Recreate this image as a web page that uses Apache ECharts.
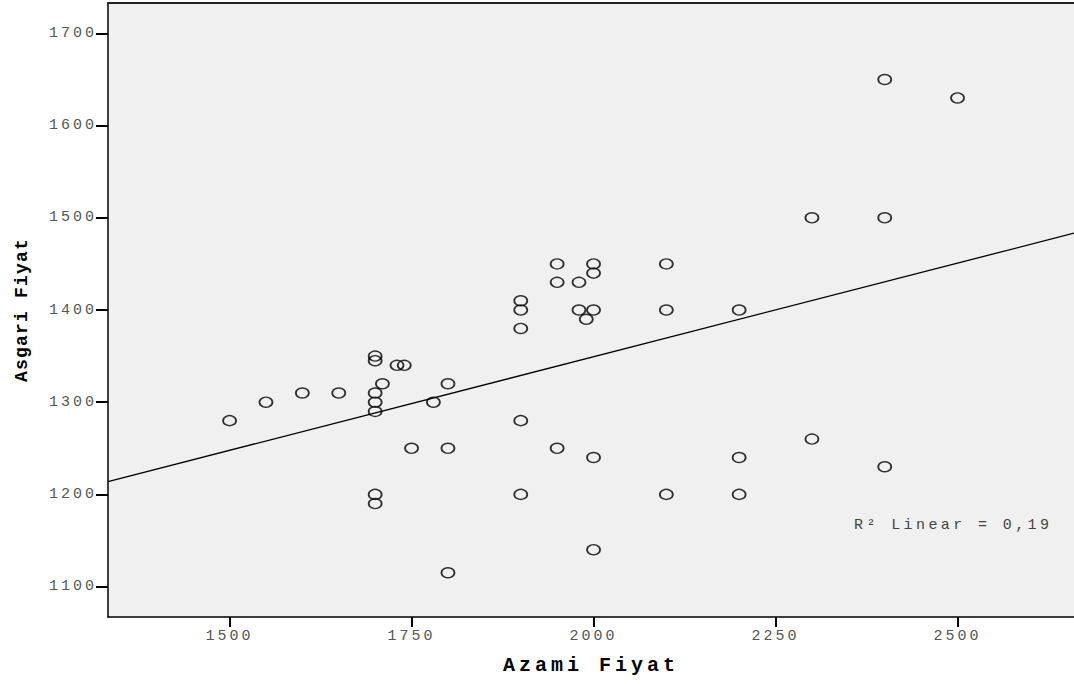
<!DOCTYPE html>
<html>
<head>
<meta charset="utf-8">
<script src="https://cdn.jsdelivr.net/npm/echarts@6/dist/echarts.min.js"></script>
<style>
  html, body { margin: 0; padding: 0; background: #fff; }
  #chart { width: 1074px; height: 684px; }
</style>
</head>
<body>
<div id="chart"></div>
<script>
// Maximum price (x) and minimum price (y) per observation
const azamiFiyat = [
  1500, 1550, 1600, 1650,
  1700, 1700, 1700, 1700, 1700, 1700, 1700,
  1710, 1730, 1740, 1750, 1780,
  1800, 1800, 1800,
  1900, 1900, 1900, 1900, 1900,
  1950, 1950, 1950,
  1980, 1980, 1990,
  2000, 2000, 2000, 2000, 2000,
  2100, 2100, 2100,
  2200, 2200, 2200,
  2300, 2300,
  2400, 2400, 2400,
  2500
];
const asgariFiyat = [
  1280, 1300, 1310, 1310,
  1350, 1345, 1310, 1300, 1290, 1200, 1190,
  1320, 1340, 1340, 1250, 1300,
  1320, 1250, 1115,
  1410, 1400, 1380, 1280, 1200,
  1450, 1430, 1250,
  1430, 1400, 1390,
  1450, 1440, 1400, 1240, 1140,
  1450, 1400, 1200,
  1400, 1240, 1200,
  1500, 1260,
  1650, 1500, 1230,
  1630
];
const xTickValues = [1500, 1750, 2000, 2250, 2500];
const yTickValues = [1100, 1200, 1300, 1400, 1500, 1600, 1700];
const xRange = [1333, 2660];
const yRange = [1067, 1733];
const xTitle = 'Azami Fiyat';
const yTitle = 'Asgari Fiyat';
const fitLabel = 'R\u00B2 Linear = 0,19';

// Ordinary least squares fit of y on x
const n = azamiFiyat.length;
const mx = azamiFiyat.reduce((a, b) => a + b, 0) / n;
const my = asgariFiyat.reduce((a, b) => a + b, 0) / n;
let sxy = 0, sxx = 0;
for (let i = 0; i < n; i++) {
  sxy += (azamiFiyat[i] - mx) * (asgariFiyat[i] - my);
  sxx += (azamiFiyat[i] - mx) * (azamiFiyat[i] - mx);
}
const slope = sxy / sxx;
const intercept = my - slope * mx;
const fitLine = xRange.map(x => [x, intercept + slope * x]);

const points = azamiFiyat.map((x, i) => [x, asgariFiyat[i]]);

const MONO = 'Liberation Mono';
const plain = v => String(Math.round(v));

const chart = echarts.init(document.getElementById('chart'), null, { renderer: 'svg' });
chart.setOption({
  animation: false,
  backgroundColor: '#fff',
  grid: {
    left: 108, right: 0, top: 3, bottom: 67,
    show: true, backgroundColor: '#f0f0f0', borderWidth: 0
  },
  xAxis: [{
    type: 'value', min: xRange[0], max: xRange[1],
    name: xTitle, nameLocation: 'middle', nameGap: 38,
    nameTextStyle: { fontFamily: MONO, fontWeight: 'bold', fontSize: 20, color: '#000' },
    axisLine: { show: true, lineStyle: { color: '#000', width: 1.5 } },
    axisTick: { show: true, customValues: xTickValues, length: 10, lineStyle: { color: '#000', width: 2 } },
    axisLabel: { customValues: xTickValues, formatter: plain, margin: 12, fontFamily: MONO, fontSize: 15, color: '#555' },
    splitLine: { show: false }
  }, {
    type: 'value', position: 'top', min: xRange[0], max: xRange[1],
    axisLine: { show: true, lineStyle: { color: '#222', width: 2 } },
    axisTick: { show: false }, axisLabel: { show: false }, splitLine: { show: false }
  }],
  yAxis: {
    type: 'value', min: yRange[0], max: yRange[1],
    name: yTitle, nameLocation: 'middle', nameGap: 77, nameRotate: 90,
    nameTextStyle: { fontFamily: MONO, fontWeight: 'bold', fontSize: 18, color: '#000' },
    axisLine: { show: true, lineStyle: { color: '#000', width: 1.5 } },
    axisTick: { show: true, customValues: yTickValues, length: 12, lineStyle: { color: '#000', width: 2 } },
    axisLabel: { customValues: yTickValues, formatter: plain, margin: 11, fontFamily: MONO, fontSize: 15, color: '#555' },
    splitLine: { show: false }
  },
  graphic: [{
    type: 'text', left: 854, top: 518,
    style: { text: fitLabel, fontFamily: MONO, fontSize: 15, fill: '#444' }
  }],
  series: [{
    type: 'line',
    data: fitLine,
    showSymbol: false,
    lineStyle: { color: '#000', width: 1.3 },
    silent: true,
    z: 2
  }, {
    type: 'scatter',
    data: points,
    symbol: 'circle',
    symbolSize: [13, 10],
    itemStyle: { color: 'rgba(0,0,0,0)', borderColor: '#000', borderWidth: 1.6 },
    z: 3
  }]
});

// Courier-style wide letter spacing for the axis and annotation text
function spaceText() {
  document.querySelectorAll('#chart text').forEach(t => {
    const s = t.textContent;
    let ls = 3;
    if (s === xTitle) ls = 4;
    else if (s === yTitle) ls = 1.2;
    else if (s === fitLabel) ls = 3.4;
    t.style.letterSpacing = ls + 'px';
  });
}
chart.getZr().flush();
spaceText();
chart.on('finished', spaceText);
</script>
</body>
</html>
